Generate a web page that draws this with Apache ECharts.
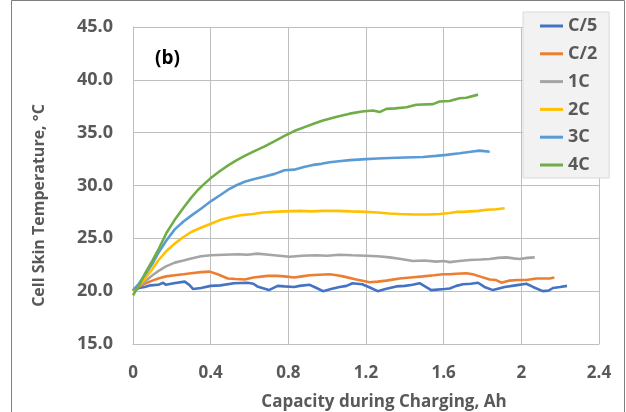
<!DOCTYPE html>
<html><head><meta charset="utf-8">
<script src="https://cdn.jsdelivr.net/npm/echarts@6/dist/echarts.min.js"></script>
<style>html,body{margin:0;padding:0;background:#fff}#c{width:626px;height:412px}</style>
</head><body><div id="c"></div>
<script>
var seriesNames = ['C/5','C/2','1C','2C','3C','4C'];
var seriesColors = ['#4472C4','#ED7D31','#A5A5A5','#FFC000','#5B9BD5','#70AD47'];
var xTicks = [0,0.4,0.8,1.2,1.6,2,2.4];
var yTicks = [15,20,25,30,35,40,45];

var c5X = [0,0.03,0.06,0.09,0.13,0.155,0.17,0.21,0.266,0.29,0.31,0.35,0.40,0.45,0.52,0.59,0.62,0.64,0.70,0.745,0.78,0.83,0.858,0.91,0.94,0.978,1.02,1.064,1.10,1.13,1.18,1.22,1.26,1.30,1.356,1.40,1.44,1.476,1.536,1.605,1.631,1.665,1.70,1.74,1.777,1.81,1.854,1.914,1.97,2.026,2.06,2.11,2.14,2.163,2.20,2.235];
var c5Y = [20.0,20.3,20.4,20.55,20.6,20.8,20.6,20.75,20.9,20.6,20.2,20.3,20.5,20.55,20.75,20.8,20.7,20.45,20.1,20.5,20.45,20.4,20.5,20.6,20.35,20.0,20.2,20.4,20.5,20.75,20.65,20.35,20.0,20.2,20.45,20.5,20.6,20.75,20.1,20.2,20.25,20.5,20.65,20.7,20.8,20.4,20.1,20.4,20.55,20.7,20.4,20.0,20.05,20.3,20.4,20.5];

var c2X = [0,0.03,0.06,0.10,0.13,0.17,0.215,0.26,0.30,0.35,0.395,0.436,0.488,0.53,0.575,0.62,0.694,0.74,0.78,0.83,0.87,0.91,0.96,1.013,1.05,1.081,1.15,1.219,1.26,1.305,1.373,1.43,1.494,1.55,1.597,1.631,1.665,1.717,1.75,1.785,1.837,1.87,1.897,1.94,1.98,2.026,2.077,2.12,2.146,2.17];
var c2Y = [20.0,20.4,20.7,21.0,21.2,21.4,21.5,21.6,21.7,21.8,21.85,21.6,21.2,21.15,21.1,21.3,21.45,21.45,21.4,21.3,21.4,21.5,21.55,21.6,21.5,21.4,21.1,20.85,20.9,21.0,21.2,21.3,21.4,21.5,21.6,21.6,21.65,21.7,21.6,21.4,21.1,21.05,20.8,21.0,21.05,21.05,21.2,21.2,21.2,21.3];

var c1X = [0,0.03,0.06,0.10,0.13,0.17,0.215,0.26,0.30,0.35,0.40,0.47,0.54,0.59,0.64,0.70,0.78,0.807,0.87,0.944,1.0,1.064,1.13,1.2,1.26,1.322,1.38,1.442,1.50,1.562,1.60,1.631,1.68,1.734,1.79,1.837,1.88,1.923,1.96,1.991,2.03,2.069];
var c1Y = [20.0,20.5,20.9,21.5,21.9,22.35,22.7,22.9,23.1,23.3,23.4,23.45,23.5,23.45,23.55,23.45,23.3,23.25,23.35,23.4,23.35,23.45,23.4,23.35,23.3,23.2,23.05,22.85,22.9,22.8,22.85,22.75,22.85,22.95,23.0,23.05,23.15,23.2,23.1,23.05,23.15,23.2];

var c2cX = [0,0.03,0.06,0.10,0.13,0.172,0.215,0.258,0.30,0.343,0.404,0.45,0.515,0.56,0.618,0.67,0.721,0.78,0.858,0.92,0.978,1.05,1.12,1.2,1.26,1.32,1.373,1.45,1.52,1.58,1.631,1.665,1.70,1.734,1.78,1.82,1.87,1.914];
var c2cY = [20.0,20.5,21.15,22.1,22.9,23.8,24.5,25.1,25.6,25.95,26.4,26.75,27.05,27.2,27.3,27.45,27.5,27.55,27.6,27.55,27.6,27.6,27.55,27.5,27.45,27.35,27.3,27.25,27.25,27.3,27.4,27.5,27.5,27.55,27.6,27.7,27.75,27.85];

var c3X = [0,0.03,0.06,0.10,0.13,0.172,0.215,0.26,0.30,0.35,0.404,0.45,0.49,0.53,0.575,0.62,0.678,0.73,0.78,0.83,0.88,0.927,0.97,1.013,1.06,1.116,1.2,1.26,1.322,1.40,1.494,1.56,1.614,1.682,1.74,1.785,1.81,1.837];
var c3Y = [20.1,20.7,21.5,22.6,23.6,24.8,25.85,26.6,27.15,27.8,28.55,29.1,29.6,30.0,30.35,30.6,30.85,31.1,31.45,31.5,31.75,31.95,32.05,32.2,32.3,32.4,32.5,32.55,32.6,32.65,32.7,32.8,32.9,33.05,33.2,33.3,33.25,33.2];

var c4X = [0,0.03,0.06,0.10,0.13,0.172,0.215,0.26,0.30,0.335,0.37,0.404,0.45,0.49,0.53,0.575,0.62,0.678,0.73,0.78,0.83,0.88,0.93,0.978,1.05,1.116,1.18,1.236,1.27,1.305,1.35,1.408,1.459,1.545,1.579,1.63,1.682,1.717,1.777];
var c4Y = [19.6,20.5,21.6,22.9,23.9,25.5,26.75,27.9,28.85,29.6,30.2,30.75,31.4,31.9,32.35,32.8,33.2,33.7,34.2,34.7,35.15,35.5,35.85,36.15,36.5,36.8,37.0,37.1,36.95,37.25,37.3,37.4,37.64,37.7,37.95,38.0,38.25,38.3,38.6];

var allX = [c5X,c2X,c1X,c2cX,c3X,c4X];
var allY = [c5Y,c2Y,c1Y,c2cY,c3Y,c4Y];

function pairs(xs, ys){ var out=[]; for(var i=0;i<xs.length;i++) out.push([xs[i], ys[i]]); return out; }

var FONT = 'Open Sans';
var GREY = '#595959';
var series = seriesNames.map(function(n,i){
  return {name:n, type:'line', showSymbol:false, symbol:'none', data:pairs(allX[i], allY[i]),
    lineStyle:{color:seriesColors[i], width:2.6}, itemStyle:{color:seriesColors[i]}, animation:false};
});

var chart = echarts.init(document.getElementById('c'), null, {renderer:'canvas'});
chart.setOption({
  animation:false,
  backgroundColor:'#ffffff',
  grid:{left:133, right:27, top:27, bottom:68, show:false, containLabel:false, outerBoundsMode:'none'},
  xAxis:{type:'value', min:xTicks[0], max:xTicks[xTicks.length-1], interval:0.4,
    name:'Capacity during Charging, Ah', nameLocation:'middle', nameGap:50,
    nameTextStyle:{fontFamily:FONT, fontWeight:'bold', fontSize:17, color:GREY, padding:[0,0,0,36]},
    axisLine:{show:true, lineStyle:{color:'#BFBFBF', width:1}}, axisTick:{show:false},
    axisLabel:{fontFamily:FONT, fontWeight:'bold', fontSize:17, color:GREY, margin:21,
      formatter:function(v){ return String(Math.round(v*10)/10); }},
    splitLine:{show:true, lineStyle:{color:'#BFBFBF', width:1}}},
  yAxis:{type:'value', min:yTicks[0], max:yTicks[yTicks.length-1], interval:5,
    name:'Cell Skin Temperature, \u00B0C', nameLocation:'middle', nameGap:86,
    nameTextStyle:{fontFamily:FONT, fontWeight:'bold', fontSize:16, color:GREY, padding:[0,40,0,0]},
    axisLine:{show:true, lineStyle:{color:'#BFBFBF', width:1}}, axisTick:{show:false},
    axisLabel:{fontFamily:FONT, fontWeight:'bold', fontSize:18, color:GREY, margin:20,
      formatter:function(v){ return v.toFixed(1); }},
    splitLine:{show:true, lineStyle:{color:'#BFBFBF', width:1}}},
  legend:{orient:'vertical', left:523, top:12, data:seriesNames,
    icon:'rect', itemWidth:23, itemHeight:3, itemGap:7.8,
    backgroundColor:'#F2F2F2', borderColor:'#D9D9D9', borderWidth:1,
    padding:[4,12,3,17],
    textStyle:{fontFamily:FONT, fontWeight:'bold', fontSize:18, color:GREY, lineHeight:20}},
  graphic:[
    {type:'rect', shape:{x:11.5, y:0.5, width:613, height:430}, style:{fill:null, stroke:'#7F7F7F', lineWidth:1}, z:-1},
    {type:'line', shape:{x1:599.5, y1:27, x2:599.5, y2:344}, style:{stroke:'#BFBFBF', lineWidth:1}},
    {type:'text', left:155, top:49, style:{text:'(b)', fontFamily:FONT, fontWeight:'bold', fontSize:19, fill:'#000'}}
  ],
  series:series
});
</script></body></html>
